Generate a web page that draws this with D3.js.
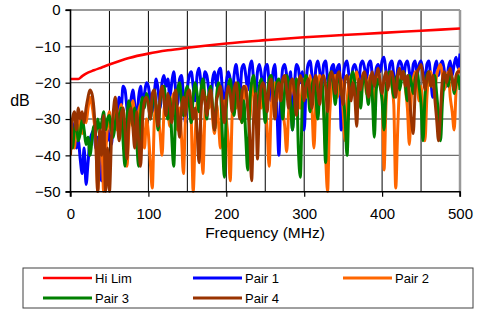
<!DOCTYPE html>
<html><head><meta charset="utf-8">
<script src="https://cdn.jsdelivr.net/npm/d3@7"></script>
<style>
body{margin:0;background:#fff}
svg{display:block}
text{font-family:"Liberation Sans",Arial,sans-serif;fill:#000}
</style>
</head><body>
<svg id="c" width="478" height="314"></svg>
<script>
// ---------- DATA ----------
const xTicks = [0, 100, 200, 300, 400, 500];
const yTicks = [0, -10, -20, -30, -40, -50];
const seriesNames = ["Hi Lim", "Pair 1", "Pair 2", "Pair 3", "Pair 4"];
const seriesColors = ["#ff0000", "#0000ff", "#ff6600", "#008000", "#993300"];

const hiLimFreq = [0, 10, 15, 20, 30, 40, 50, 75, 100, 125, 150, 200, 250, 300, 350, 400, 450, 500];
const hiLim = [-19, -19, -18.2, -17.5, -16.6, -15.8, -15, -13.2, -12, -11.1, -10.4, -9.2, -8.3, -7.5, -6.9, -6.3, -5.7, -5.1];

// pair measurements sampled every 2.5 MHz from 0 to 500 MHz
const freq = d3.range(0, 500.001, 2.5);

const pair1 = [
-34,-31,-35,-38,-36,-41,-45,-38,-48,-42,
-36,-34,-33,-38,-35,-43,-47,-38,-34,-36,
-33,-37,-30,-26,-29,-24,-27,-21,-22,-27,
-30,-25,-22,-26,-31,-24,-21,-26,-23,-20,
-21,-25,-28,-23,-19,-22,-27,-20,-18,-21,
-19,-24,-20,-17,-22,-26,-19,-18,-24,-31,
-22,-18,-17,-21,-25,-18,-16,-20,-23,-17,
-18,-22,-26,-19,-17,-21,-17,-16,-22,-27,
-20,-17,-19,-24,-18,-15,-19,-23,-16,-15,
-18,-22,-16,-14,-19,-24,-17,-15,-18,-23,
-16,-15,-20,-25,-17,-15,-27,-40,-24,-16,
-15,-18,-22,-17,-33,-21,-15,-16,-20,-17,
-33,-20,-15,-14,-18,-22,-16,-14,-17,-21,
-15,-14,-19,-23,-16,-15,-20,-16,-15,-33,
-19,-15,-14,-18,-21,-16,-15,-17,-20,-15,
-14,-16,-19,-15,-14,-18,-22,-16,-15,-17,
-14,-13,-17,-20,-15,-14,-18,-22,-16,-14,
-15,-19,-15,-14,-17,-21,-15,-14,-18,-15,
-14,-17,-20,-15,-14,-19,-24,-16,-14,-18,
-15,-14,-17,-21,-16,-14,-18,-15,-13,-16,
-12];

const pair2 = [
-36,-33,-38,-32,-35,-30,-34,-29,-31,-27,
-24,-26,-30,-36,-50,-38,-34,-50,-40,-32,
-28,-34,-31,-27,-33,-29,-26,-31,-36,-43,
-33,-28,-25,-30,-35,-28,-26,-32,-38,-30,
-34,-42,-49,-31,-26,-29,-34,-40,-28,-24,
-27,-32,-26,-23,-28,-33,-27,-35,-45,-30,
-25,-23,-30,-50,-35,-26,-24,-33,-45,-29,
-24,-27,-22,-30,-34,-26,-31,-38,-27,-25,
-30,-36,-47,-29,-23,-27,-22,-26,-31,-24,
-21,-26,-30,-23,-20,-28,-25,-22,-27,-21,
-26,-33,-43,-28,-22,-20,-25,-21,-24,-28,
-32,-39,-28,-22,-20,-24,-19,-23,-27,-21,
-19,-24,-22,-18,-27,-38,-25,-20,-18,-22,
-26,-40,-50,-30,-22,-19,-18,-24,-21,-19,
-28,-36,-25,-20,-18,-22,-19,-17,-21,-24,
-19,-18,-23,-20,-18,-22,-26,-19,-17,-20,
-22,-44,-26,-19,-17,-21,-26,-49,-33,-21,
-18,-17,-22,-27,-37,-24,-19,-17,-20,-25,
-21,-29,-36,-24,-18,-17,-20,-22,-18,-16,
-15,-18,-22,-19,-17,-24,-28,-33,-22,-17,
-16];

const pair3 = [
-35,-38,-33,-31,-36,-34,-30,-33,-37,-35,
-40,-36,-32,-34,-30,-33,-31,-28,-33,-30,
-29,-33,-35,-31,-28,-32,-27,-36,-43,-30,
-25,-28,-32,-27,-36,-43,-29,-24,-27,-23,
-25,-30,-26,-22,-27,-33,-25,-23,-21,-26,
-30,-24,-35,-43,-28,-22,-20,-25,-29,-23,
-21,-26,-31,-24,-20,-23,-28,-22,-19,-24,
-30,-23,-21,-27,-33,-24,-20,-22,-35,-46,
-27,-21,-19,-24,-29,-22,-20,-23,-31,-25,
-35,-44,-26,-20,-18,-23,-28,-21,-19,-25,
-31,-24,-19,-18,-22,-27,-20,-19,-24,-30,
-22,-18,-20,-26,-33,-25,-19,-38,-46,-26,
-20,-18,-22,-28,-21,-19,-24,-30,-22,-19,
-28,-42,-24,-18,-17,-21,-26,-19,-18,-23,
-24,-30,-40,-25,-19,-17,-20,-24,-21,-27,
-20,-18,-22,-26,-19,-24,-35,-22,-19,-21,
-25,-33,-22,-18,-17,-20,-24,-19,-18,-22,
-19,-17,-21,-25,-18,-20,-23,-19,-17,-21,
-26,-36,-24,-18,-17,-21,-19,-18,-23,-29,
-36,-25,-19,-18,-21,-17,-19,-23,-20,-18,
-22];

const pair4 = [
-40,-30,-28,-33,-27,-30,-28,-31,-27,-24,
-22,-23,-27,-36,-50,-33,-40,-29,-50,-38,
-50,-36,-28,-24,-30,-36,-29,-27,-33,-41,
-30,-27,-32,-38,-28,-36,-43,-30,-25,-24,
-26,-30,-23,-22,-27,-32,-24,-21,-25,-29,
-23,-26,-31,-25,-22,-28,-35,-27,-24,-29,
-23,-22,-26,-30,-27,-33,-42,-28,-22,-25,
-29,-24,-22,-28,-33,-25,-23,-21,-26,-31,
-24,-21,-23,-28,-22,-20,-25,-30,-23,-21,
-22,-27,-34,-47,-30,-23,-41,-26,-21,-20,
-23,-28,-21,-19,-24,-30,-22,-20,-25,-19,
-18,-22,-27,-20,-19,-23,-29,-21,-18,-20,
-25,-21,-19,-23,-27,-20,-18,-22,-26,-19,
-18,-21,-28,-20,-17,-19,-23,-18,-17,-22,
-26,-19,-18,-21,-25,-20,-24,-32,-19,-22,
-18,-17,-20,-24,-19,-17,-21,-18,-16,-20,
-23,-19,-17,-22,-18,-17,-20,-24,-18,-16,
-19,-17,-21,-18,-24,-30,-34,-22,-17,-16,
-15,-18,-22,-19,-17,-21,-18,-24,-30,-36,
-28,-19,-17,-20,-18,-16,-19,-22,-18,-17,
-17];

// ---------- CHART ----------
const svg = d3.select("#c");
const L = 70.5, R = 460, T = 10, B = 191.7;
const x = d3.scaleLinear().domain([0, 500]).range([L, R]);
const y = d3.scaleLinear().domain([-50, 0]).range([B, T]);

svg.append("defs").append("clipPath").attr("id", "clip")
  .append("rect").attr("x", L).attr("y", T - 1).attr("width", R - L).attr("height", B - T + 2);

// vertical grid (every 50 MHz)
svg.append("g").selectAll("line").data(d3.range(50, 500, 50)).join("line")
  .attr("x1", d => x(d)).attr("x2", d => x(d)).attr("y1", T).attr("y2", B)
  .attr("stroke", "#000").attr("stroke-width", 1);

// horizontal grid
svg.append("g").selectAll("line").data([-10, -20, -30, -40]).join("line")
  .attr("x1", L).attr("x2", R).attr("y1", d => y(d)).attr("y2", d => y(d))
  .attr("stroke", "#707070").attr("stroke-width", 1.3);

// top & right border
svg.append("line").attr("x1", L).attr("x2", R).attr("y1", y(0)).attr("y2", y(0))
  .attr("stroke", "#999").attr("stroke-width", 2.2);
svg.append("line").attr("x1", R).attr("x2", R).attr("y1", T).attr("y2", B)
  .attr("stroke", "#999").attr("stroke-width", 2.5);

// series
const line = d3.line().x(d => x(d[0])).y(d => y(d[1])).curve(d3.curveMonotoneX);
const plot = svg.append("g").attr("clip-path", "url(#clip)");
const pairs = [pair1, pair2, pair3, pair4];

plot.append("path").datum(hiLimFreq.map((f, i) => [f, hiLim[i]]))
  .attr("d", d3.line().x(d => x(d[0])).y(d => y(d[1])).curve(d3.curveMonotoneX))
  .attr("fill", "none").attr("stroke", seriesColors[0]).attr("stroke-width", 2.6);

pairs.forEach((p, k) => {
  plot.append("path").datum(freq.map((f, i) => [f, p[i]]))
    .attr("d", line)
    .attr("fill", "none").attr("stroke", seriesColors[k + 1])
    .attr("stroke-width", 3).attr("stroke-linejoin", "round");
});

// axes
const fmt = d3.format("d");
const yAxis = svg.append("g").attr("transform", `translate(${L},0)`)
  .call(d3.axisLeft(y).tickValues(yTicks).tickSize(5).tickPadding(5).tickFormat(fmt));
const xAxis = svg.append("g").attr("transform", `translate(0,${B})`)
  .call(d3.axisBottom(x).tickValues(xTicks).tickSize(5).tickPadding(12).tickFormat(fmt));
[xAxis, yAxis].forEach(a => {
  a.select(".domain").attr("stroke", "#000").attr("stroke-width", 1.6);
  a.selectAll(".tick line").attr("stroke", "#000").attr("stroke-width", 1.2);
  a.selectAll(".tick text").attr("font-size", 15).attr("font-family", '"Liberation Sans",Arial,sans-serif');
});
yAxis.select(".domain").attr("d", `M-5,${T}H0V${B}H-5`);
xAxis.select(".domain").attr("d", `M${L},5V0H${R}V5`);

svg.append("text").attr("x", 20).attr("y", 106).attr("text-anchor", "middle")
  .attr("font-size", 16).text("dB");
svg.append("text").attr("x", 265).attr("y", 238).attr("text-anchor", "middle")
  .attr("font-size", 15.5).text("Frequency (MHz)");

// legend
const lg = svg.append("g");
lg.append("rect").attr("x", 23).attr("y", 268).attr("width", 450).attr("height", 40)
  .attr("fill", "#fff").attr("stroke", "#404040").attr("stroke-width", 1);
const colX = [43, 193, 343];
const rowY = [278, 298];
seriesNames.forEach((n, i) => {
  const cx = colX[i % 3], cy = rowY[Math.floor(i / 3)];
  lg.append("line").attr("x1", cx).attr("x2", cx + 49).attr("y1", cy).attr("y2", cy)
    .attr("stroke", seriesColors[i]).attr("stroke-width", i === 0 ? 2.6 : 3);
  lg.append("text").attr("x", cx + 52).attr("y", cy + 4.7).attr("font-size", 13).text(n);
});
</script>
</body></html>
